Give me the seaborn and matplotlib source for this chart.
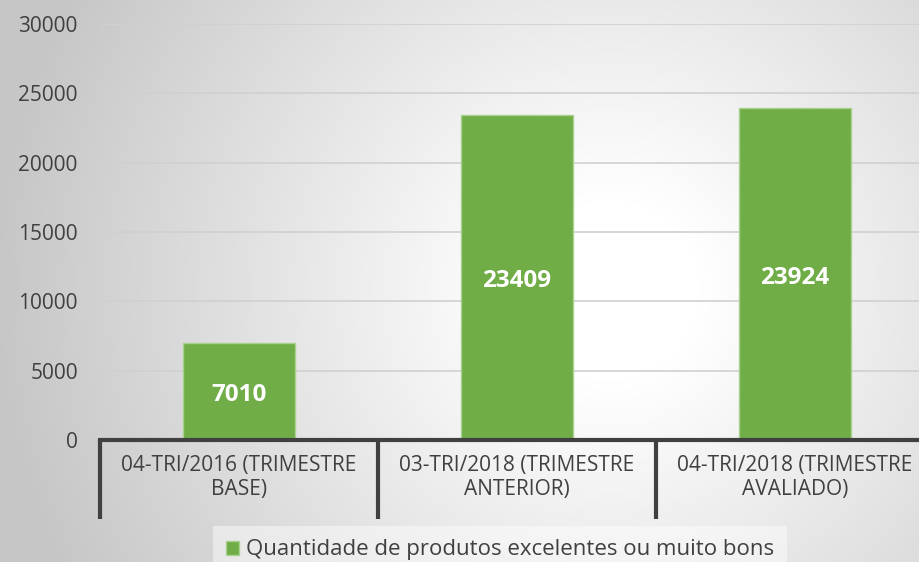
import numpy as np
import matplotlib
matplotlib.use("Agg")
import matplotlib.pyplot as plt
import seaborn as sns

categories = ["04-TRI/2016 (TRIMESTRE\nBASE)",
              "03-TRI/2018 (TRIMESTRE\nANTERIOR)",
              "04-TRI/2018 (TRIMESTRE\nAVALIADO)"]
values = [7010, 23409, 23924]
series_name = "Quantidade de produtos excelentes ou muito bons"
yticks = [0, 5000, 10000, 15000, 20000, 25000, 30000]

green = "#70AD47"
text_col = "#404040"

sns.set_theme(style="white")
plt.rcParams["font.family"] = ["Open Sans", "DejaVu Sans"]

fig = plt.figure(figsize=(9.19, 5.62), dpi=100)

# radial gradient background
bg = fig.add_axes([0, 0, 1, 1], zorder=0)
h, w = 562, 919
yy, xx = np.mgrid[0:h, 0:w]
r = np.sqrt((xx - 610) ** 2 + (yy - 290) ** 2)
shade = np.clip((r - 90) / 520, 0, 1)
gray = 1 - 0.22 * shade
bg.imshow(np.dstack([gray, gray, gray]), aspect="auto", extent=[0, 1, 0, 1], origin="upper")
bg.set_axis_off()

ax = fig.add_axes([100 / 919, 1 - 440 / 562, 834 / 919, 416 / 562], zorder=1)
ax.patch.set_alpha(0)

sns.barplot(x=categories, y=values, color=green, width=0.4, ax=ax,
            edgecolor="#A9D18E", linewidth=1, saturation=1)

ax.set_ylim(0, 30000)
ax.set_xlim(-0.5, 2.5)
ax.set_yticks(yticks)
ax.set_yticklabels([str(t) for t in yticks], color=text_col, fontsize=15)
ax.yaxis.grid(True, color="#D0D0D0", linewidth=1.2)
ax.set_axisbelow(True)
ax.tick_params(axis="y", length=0, pad=16)

ax.set_xticks(range(len(categories)))
ax.set_xticklabels(categories, color=text_col, fontsize=15, linespacing=1.2)
ax.set_xticks([-0.5, 0.5, 1.5, 2.5], minor=True)
ax.tick_params(axis="x", which="major", bottom=False, length=0, pad=11)
ax.tick_params(axis="x", which="minor", bottom=True, length=57, width=3,
               color=text_col, direction="out")

for s in ["top", "right", "left"]:
    ax.spines[s].set_visible(False)
ax.spines["bottom"].set_color(text_col)
ax.spines["bottom"].set_linewidth(3)
ax.set_xlabel("")
ax.set_ylabel("")

for i, v in enumerate(values):
    ax.text(i, v / 2 - 250, str(v), ha="center", va="center", color="white",
            fontsize=17.5, fontweight="bold")

handle = plt.Rectangle((0, 0), 1, 1, facecolor=green, edgecolor="#A9D18E")
leg = fig.legend([handle], [series_name], loc="center",
                 bbox_to_anchor=(500 / 919, 1 - 550 / 562),
                 frameon=True, fontsize=16, handlelength=0.6, handleheight=0.6,
                 handletextpad=0.3, borderpad=0.6, fancybox=False,
                 labelcolor=text_col)
leg.get_frame().set_facecolor("white")
leg.get_frame().set_alpha(0.45)
leg.get_frame().set_linewidth(0)

fig.savefig("out.png", dpi=100)
